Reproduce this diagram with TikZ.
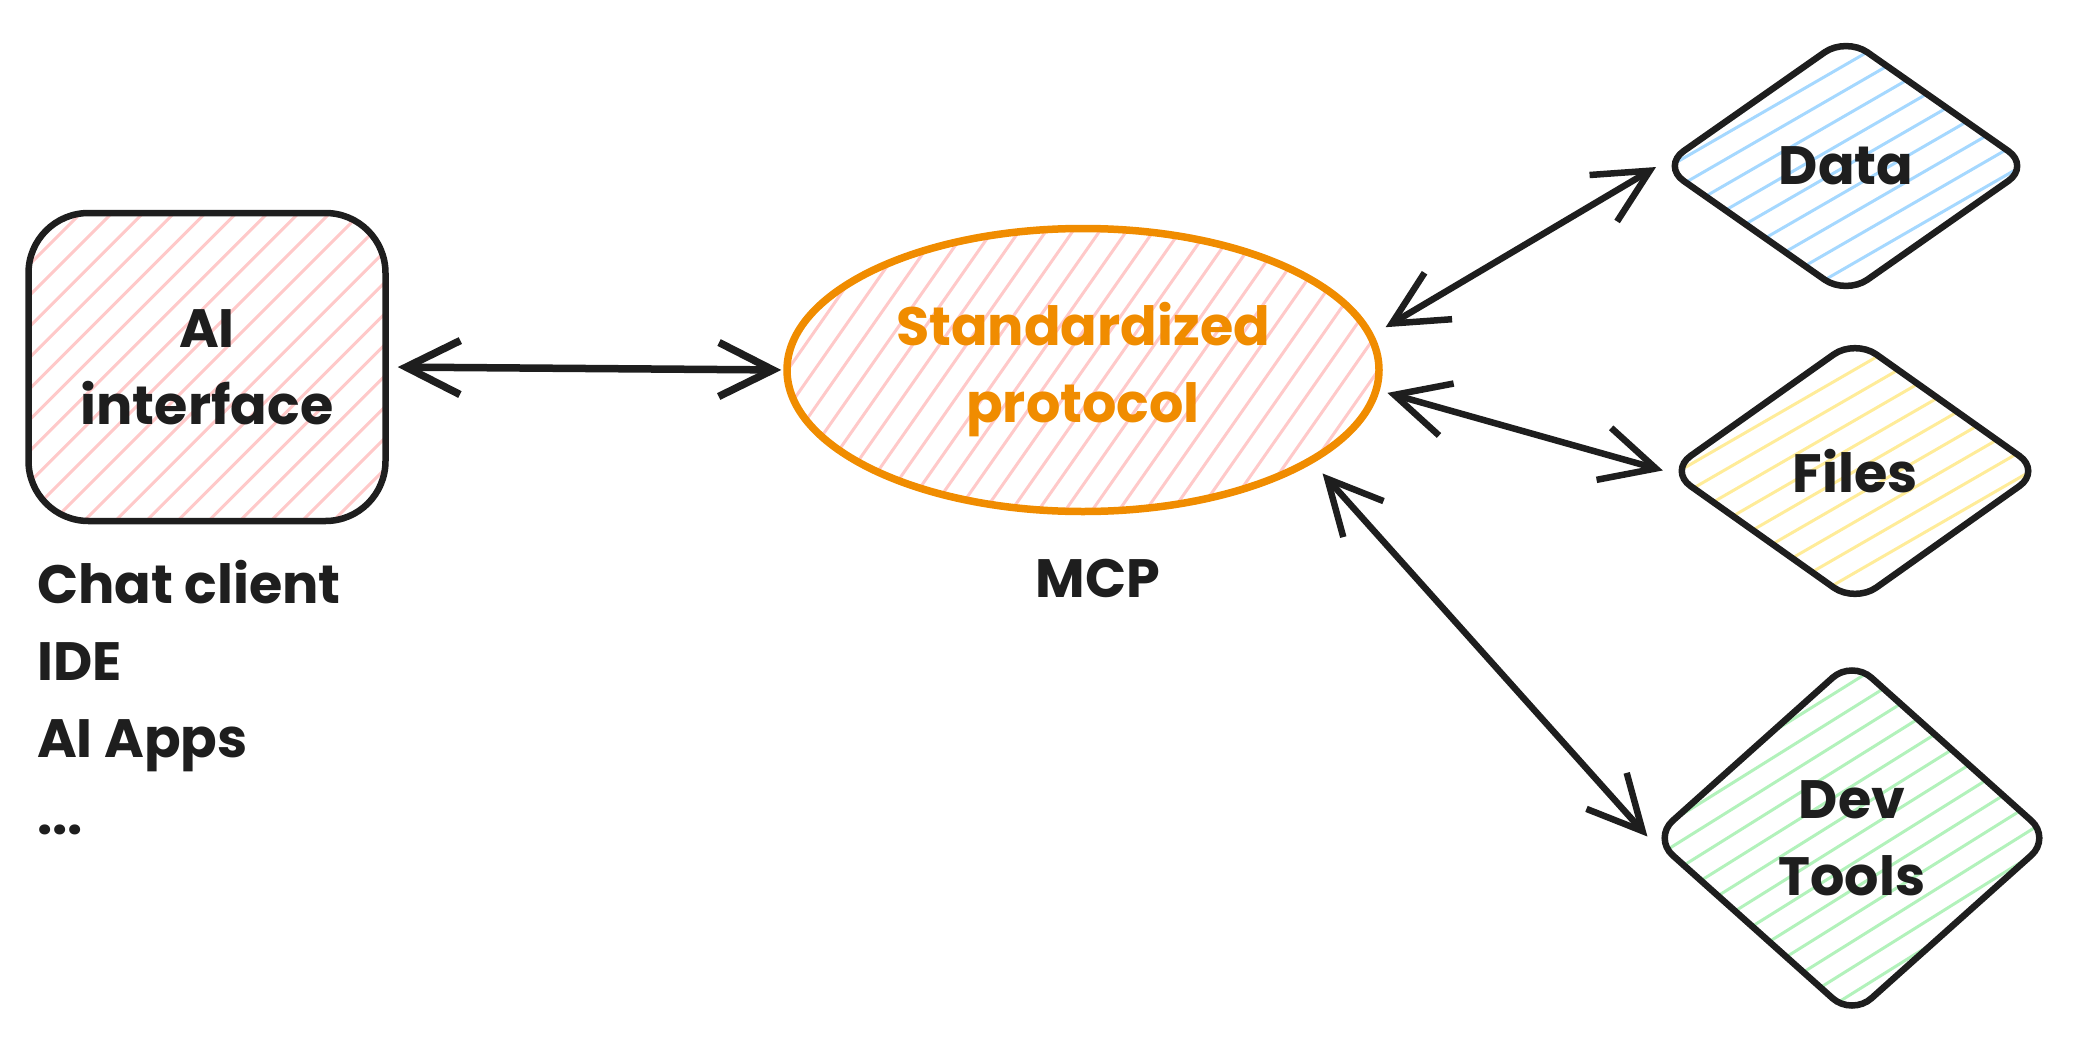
\documentclass[tikz,border=0pt]{standalone}
\usepackage{fontspec}
\setmainfont{Poppins}
\usetikzlibrary{shapes.geometric,arrows.meta,calc}
\definecolor{ink}{HTML}{1E1E1E}
\definecolor{orng}{HTML}{F08C00}
\definecolor{pinkh}{HTML}{FFC9C9}
\definecolor{blueh}{HTML}{A5D8FF}
\definecolor{yellowh}{HTML}{FFEC99}
\definecolor{greenh}{HTML}{B2F2BB}
\tikzset{
  hatch/.style 2 args={path picture={
      \foreach \k in {-26,...,26}
        \draw[#1, line width=3pt, line cap=round]
          (path picture bounding box.center) ++(#2+90:\k*22pt) ++(#2:-520pt) -- ++(#2:1040pt);
    }},
  txt/.style={font=\fontsize{54}{77}\selectfont\bfseries, text=ink, align=center},
  boxnode/.style={draw=ink, line width=6.5pt, rounded corners=60pt, minimum width=357pt,
    minimum height=308pt, hatch={pinkh}{45}, txt},
  dia/.style={diamond, draw=ink, line width=6.5pt, rounded corners=26pt, inner sep=0pt, txt},
  conn/.style={draw=ink, line width=6.5pt, line cap=round,
    {Straight Barb[length=54pt,width=54pt]}-{Straight Barb[length=54pt,width=54pt]}}
}
\begin{document}
\begin{tikzpicture}[x=1pt,y=-1pt]
\useasboundingbox (0,0) rectangle (2085,1049);
\node[boxnode] (ai) at (207,367) {AI\\interface};
\node[ellipse, draw=orng, line width=7.5pt, minimum width=592pt, minimum height=283pt,
  hatch={pinkh}{55}, txt, text=orng] (mcp) at (1083,370) {Standardized\\protocol};
\node[dia, minimum width=370pt, minimum height=260pt, hatch={blueh}{30}] (data) at (1846,166) {Data};
\node[dia, minimum width=374pt, minimum height=266pt, hatch={yellowh}{30}] (files) at (1855,471) {Files};
\node[dia, minimum width=400pt, minimum height=358pt, hatch={greenh}{32}] (dev) at (1852,838) {Dev\\Tools};
\node[txt, anchor=north west, align=left, inner sep=0pt] (clients) at (37,560) {Chat client\\IDE\\AI Apps\\...};
\node[txt] (mcplabel) at (1098,578) {MCP};
\draw[conn, line width=7.5pt, shorten <=9pt, shorten >=2pt] (ai.east) -- (mcp.west);
\draw[conn, shorten <=14pt, shorten >=2pt] (mcp.7) -- (data.west);
\draw[conn, shorten <=8pt, shorten >=2pt] (mcp.-4) -- (files.west);
\draw[conn, shorten <=14pt, shorten >=2pt] (mcp.-22) -- (dev.west);
\end{tikzpicture}
\end{document}
